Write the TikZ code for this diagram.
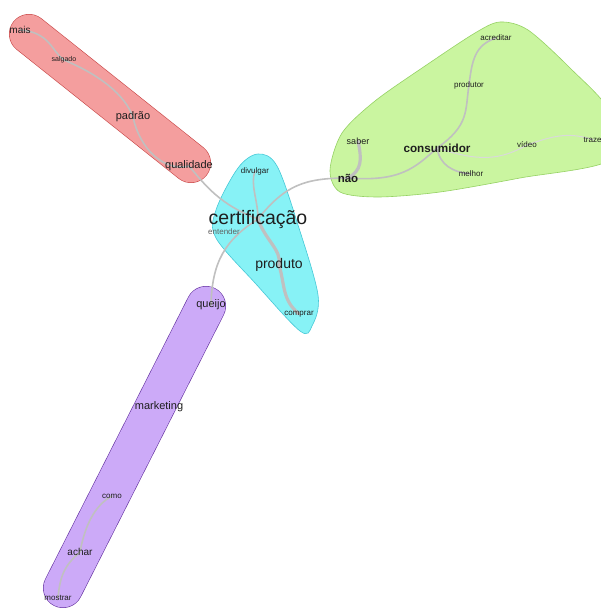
\documentclass[tikz,border=0pt]{standalone}
\usepackage{fontspec}
\setmainfont{Liberation Sans}
\pgfdeclarelayer{hulls}
\pgfdeclarelayer{edges}
\pgfsetlayers{hulls,edges,main}
\begin{document}
\begin{tikzpicture}[x=1pt,y=-1pt]
\definecolor{redfill}{RGB}{244,158,158}
\definecolor{redline}{RGB}{200,70,70}
\definecolor{cyanfill}{RGB}{135,242,246}
\definecolor{cyanline}{RGB}{70,200,215}
\definecolor{greenfill}{RGB}{202,245,160}
\definecolor{greenline}{RGB}{150,210,100}
\definecolor{purplefill}{RGB}{204,170,248}
\definecolor{purpleline}{RGB}{100,50,160}
\definecolor{edgegray}{RGB}{192,192,192}
\definecolor{txt}{RGB}{30,30,30}
\tikzset{
  w/.style={inner sep=0.5pt, text=txt, font=\fontsize{8}{9}\selectfont},
  wm/.style={inner sep=0.5pt, text=txt, font=\fontsize{10}{11}\selectfont},
  wl/.style={inner sep=0.5pt, text=txt, font=\fontsize{11}{12}\selectfont},
  edge/.style={draw=edgegray, line width=1.6pt, line cap=round},
  thick edge/.style={draw=edgegray, line width=3.2pt, line cap=round},
  thin edge/.style={draw=edgegray!60, line width=1pt, line cap=round},
  hull/.style={line width=0.6pt}
}
\useasboundingbox (0,0) rectangle (600,610);
\begin{pgfonlayer}{hulls}
\fill[white] (0,0) rectangle (600,610);
% red hull (capsule)
\draw[redline, line width=40pt, line cap=round] (29,34) -- (191,163);
\draw[redfill, line width=38.8pt, line cap=round] (29,34) -- (191,163);
% purple hull (capsule)
\draw[purpleline, line width=40pt, line cap=round] (206,306) -- (63,588);
\draw[purplefill, line width=38.8pt, line cap=round] (206,306) -- (63,588);
% cyan hull
\draw[hull, draw=cyanline, fill=cyanfill] plot[smooth cycle, tension=0.55] coordinates {
  (258,154) (277,166) (298,225) (318,295) (312,326) (300,331) (256,284) (216,238) (216,210) (238,168)};
% green hull
\draw[hull, draw=greenline, fill=greenfill] plot[smooth cycle, tension=0.5] coordinates {
  (500,22) (528,30) (570,68) (610,112) (610,160) (520,178) (440,192) (378,197) (340,192) (330,170) (342,133) (375,101) (425,66) (475,33)};
\end{pgfonlayer}

% nodes
\node[wm] (mais) at (20,30) {mais};
\node[w, font=\fontsize{7}{8}\selectfont] (salgado) at (64,60) {salgado};
\node[wl] (padrao) at (133,117) {padrão};
\node[wl] (qualidade) at (189,166) {qualidade};
\node[inner sep=0.5pt, text=txt, font=\fontsize{19.5}{21}\selectfont] (cert) at (258,219) {certificação};
\node[w, text=txt!70] (entender) at (224,232) {entender};
\node[w] (divulgar) at (255,171) {divulgar};
\node[inner sep=0.5pt, text=txt, font=\fontsize{14}{15}\selectfont] (produto) at (279,265) {produto};
\node[w] (comprar) at (299,314) {comprar};
\node[inner sep=0.5pt, text=txt, font=\fontsize{11.5}{12}\selectfont\bfseries] (nao) at (348,178) {não};
\node[w, font=\fontsize{9}{10}\selectfont] (saber) at (358,141) {saber};
\node[inner sep=0.5pt, text=txt, font=\fontsize{11.7}{12}\selectfont\bfseries] (consumidor) at (437,148) {consumidor};
\node[w] (produtor) at (469,85) {produtor};
\node[w] (acreditar) at (496,38) {acreditar};
\node[w] (video) at (527,145) {vídeo};
\node[w] (melhor) at (471,174) {melhor};
\node[w, anchor=west] (trazer) at (583,140) {trazer};
\node[wl] (queijo) at (211,305) {queijo};
\node[wl] (marketing) at (159,407) {marketing};
\node[w] (como) at (112,496) {como};
\node[wm] (achar) at (80,552) {achar};
\node[w] (mostrar) at (58,598) {mostrar};

% edges
\begin{pgfonlayer}{edges}
\path[edge] (mais.center) .. controls (50,32) and (52,52) .. (salgado.center);
\path[edge] (salgado.center) .. controls (100,75) and (125,95) .. (padrao.center);
\path[edge] (padrao.center) .. controls (140,150) and (165,172) .. (qualidade.center);
\path[edge] (qualidade.center) .. controls (205,185) and (220,205) .. (cert.center);
\path[edge] (cert.center) .. controls (258,200) and (250,185) .. (divulgar.center);
\path[thick edge] (cert.center) .. controls (265,240) and (282,250) .. (produto.center);
\path[thick edge] (produto.center) .. controls (285,285) and (282,300) .. (comprar.center);
\path[edge] (cert.center) .. controls (285,185) and (305,178) .. (nao.center);
\path[thick edge] (nao.center) .. controls (362,170) and (362,160) .. (saber.center);
\path[edge] (nao.center) .. controls (400,182) and (415,168) .. (consumidor.center);
\path[edge] (consumidor.center) .. controls (470,125) and (465,110) .. (produtor.center);
\path[edge] (produtor.center) .. controls (472,60) and (475,45) .. (acreditar.center);
\path[edge] (consumidor.center) .. controls (440,165) and (452,172) .. (melhor.center);
\path[thin edge] (consumidor.center) .. controls (480,162) and (500,160) .. (video.center);
\path[thin edge] (video.center) .. controls (555,135) and (570,132) .. (trazer.center);
\path[edge] (cert.center) .. controls (225,240) and (212,262) .. (queijo.center);
\path[edge] (como.center) .. controls (95,505) and (85,525) .. (achar.center);
\path[edge] (achar.center) .. controls (65,565) and (60,575) .. (mostrar.center);
\end{pgfonlayer}
\end{tikzpicture}
\end{document}
